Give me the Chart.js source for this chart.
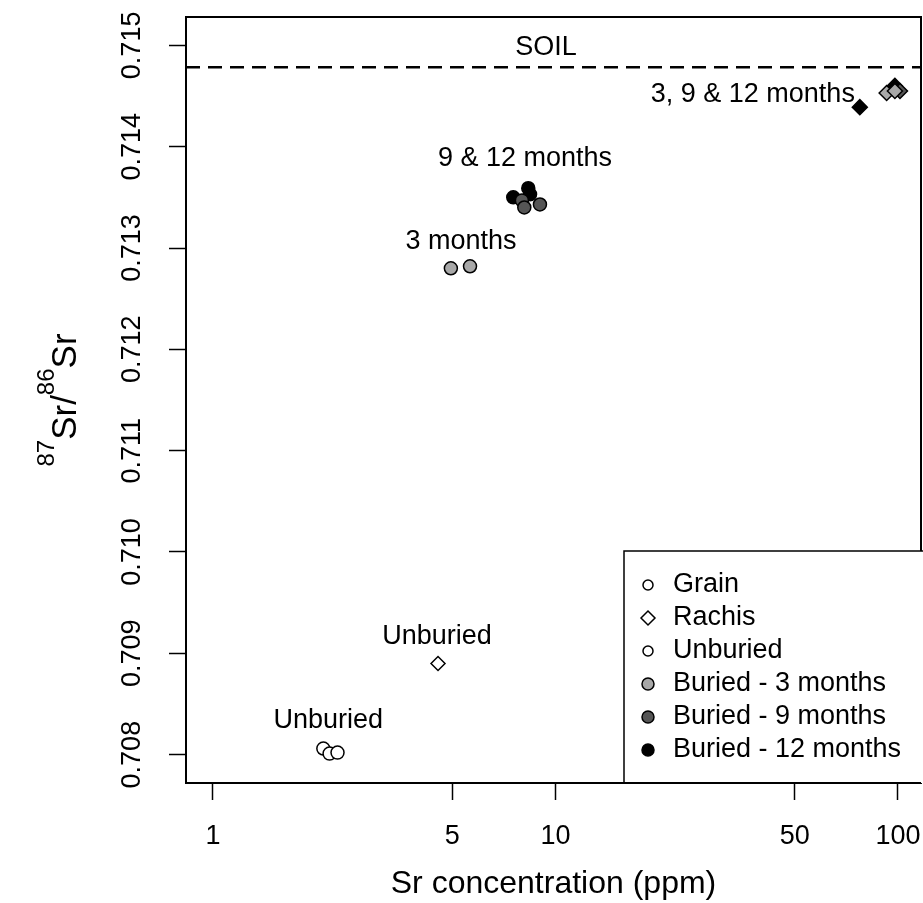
<!DOCTYPE html>
<html><head><meta charset="utf-8">
<script src="https://cdn.jsdelivr.net/npm/chart.js@4/dist/chart.umd.min.js"></script>
<style>html,body{margin:0;padding:0;background:#fff}canvas{display:block}</style>
</head><body>
<canvas id="c" width="923" height="903"></canvas>
<script>
// ---- data ----
const xTicks = [1, 5, 10, 50, 100];
const yTicks = [0.708, 0.709, 0.710, 0.711, 0.712, 0.713, 0.714, 0.715];

const grainUnburiedX = [2.10, 2.19, 2.31];
const grainUnburiedY = [0.70806, 0.70801, 0.70802];
const rachisUnburiedX = [4.54];
const rachisUnburiedY = [0.70890];

const grain3X = [4.95, 5.63];
const grain3Y = [0.71280, 0.71282];
const grain9X = [7.98, 8.11, 9.01];
const grain9Y = [0.71347, 0.71340, 0.71343];
const grain12X = [7.53, 8.33, 8.43];
const grain12Y = [0.71350, 0.71359, 0.71353];

const rachis3X = [92.7, 98.0];
const rachis3Y = [0.71453, 0.71455];
const rachis9X = [101.4];
const rachis9Y = [0.71455];
const rachis12X = [77.4, 98.0];
const rachis12Y = [0.71439, 0.71460];

const soilValue = 0.714785;

const noteText = ['SOIL', '3, 9 & 12 months', '9 & 12 months', '3 months', 'Unburied', 'Unburied'];
const noteX = [9.38, 37.7, 8.15, 5.30, 4.51, 2.17];
const noteY = [0.714979, 0.714515, 0.713883, 0.713064, 0.709165, 0.708336];

const legendLabels = ['Grain', 'Rachis', 'Unburied', 'Buried - 3 months', 'Buried - 9 months', 'Buried - 12 months'];
const legendShapes = ['circle', 'rectRot', 'circle', 'circle', 'circle', 'circle'];
const legendFills = ['#ffffff', '#ffffff', '#ffffff', '#a8a8a8', '#555555', '#000000'];

const xTitle = 'Sr concentration (ppm)';

// ---- chart ----
const FONT = '"Liberation Sans", Arial, Helvetica, sans-serif';
function pts(xs, ys) { return xs.map((v, i) => ({ x: v, y: ys[i] })); }
function ds(label, xs, ys, shape, fill, r, order) {
  return {
    label, data: pts(xs, ys), pointStyle: shape, backgroundColor: fill,
    borderColor: '#000', borderWidth: 1.5, pointRadius: r, pointHoverRadius: r,
    showLine: false, order
  };
}

function drawSymbol(ctx, shape, x, y, r, fill) {
  ctx.beginPath();
  if (shape === 'rectRot') {
    ctx.moveTo(x - r, y); ctx.lineTo(x, y - r); ctx.lineTo(x + r, y); ctx.lineTo(x, y + r); ctx.closePath();
  } else {
    ctx.arc(x, y, r, 0, Math.PI * 2);
  }
  ctx.fillStyle = fill; ctx.fill();
  ctx.lineWidth = 1.5; ctx.strokeStyle = '#000'; ctx.stroke();
}

const overlay = {
  id: 'overlay',
  beforeDatasetsDraw(chart) {
    const { ctx, chartArea: a, scales: { x, y } } = chart;
    ctx.save();
    const sy = y.getPixelForValue(soilValue);
    ctx.strokeStyle = '#000'; ctx.lineWidth = 2.5; ctx.setLineDash([14, 8]);
    ctx.beginPath(); ctx.moveTo(a.left, sy); ctx.lineTo(a.right, sy); ctx.stroke();
    ctx.setLineDash([]);
    ctx.font = '27px ' + FONT; ctx.fillStyle = '#000';
    ctx.textAlign = 'center'; ctx.textBaseline = 'middle';
    noteText.forEach((t, i) => ctx.fillText(t, x.getPixelForValue(noteX[i]), y.getPixelForValue(noteY[i])));
    ctx.restore();
  },
  afterDraw(chart) {
    const { ctx, chartArea: a, scales: { x, y } } = chart;
    ctx.save();
    ctx.strokeStyle = '#000'; ctx.lineWidth = 2;
    ctx.strokeRect(a.left, a.top, a.right - a.left, a.bottom - a.top);
    // y tick labels (parallel to axis)
    ctx.font = '27px ' + FONT; ctx.fillStyle = '#000';
    ctx.textAlign = 'center'; ctx.textBaseline = 'middle';
    yTicks.forEach(v => {
      const py = y.getPixelForValue(v);
      ctx.save(); ctx.translate(a.left - 53, py); ctx.rotate(-Math.PI / 2);
      ctx.fillText(v.toFixed(3), 0, 0); ctx.restore();
    });
    // x title
    ctx.font = '32px ' + FONT;
    ctx.fillText(xTitle, (a.left + a.right) / 2, 884);
    // y title with superscripts
    const mainF = '35px ' + FONT, supF = '24px ' + FONT;
    const parts = [['87', true], ['Sr/', false], ['86', true], ['Sr', false]];
    let total = 0;
    const widths = parts.map(([t, sup]) => { ctx.font = sup ? supF : mainF; const w = ctx.measureText(t).width; total += w; return w; });
    ctx.save();
    ctx.translate(46, (a.top + a.bottom) / 2); ctx.rotate(-Math.PI / 2);
    ctx.textAlign = 'left'; ctx.textBaseline = 'alphabetic';
    let cx = -total / 2;
    parts.forEach(([t, sup], i) => {
      ctx.font = sup ? supF : mainF;
      ctx.fillText(t, cx, sup ? 8 : 30);
      cx += widths[i];
    });
    ctx.restore();
    // legend
    const lx = a.right - 297, ly = a.bottom - 232;
    ctx.fillStyle = '#fff';
    ctx.fillRect(lx, ly, 400, a.bottom - ly);
    ctx.strokeStyle = '#000'; ctx.lineWidth = 1.5;
    ctx.beginPath(); ctx.moveTo(lx + 400, ly); ctx.lineTo(lx, ly); ctx.lineTo(lx, a.bottom); ctx.stroke();
    ctx.lineWidth = 2; ctx.beginPath(); ctx.moveTo(lx, a.bottom); ctx.lineTo(a.right, a.bottom); ctx.stroke();
    ctx.font = '27px ' + FONT; ctx.textAlign = 'left'; ctx.textBaseline = 'middle';
    legendLabels.forEach((t, i) => {
      const yy = ly + 34 + i * 33;
      drawSymbol(ctx, legendShapes[i], lx + 24, yy, legendShapes[i] === 'rectRot' ? 7 : (i >= 3 ? 6 : 5), legendFills[i]);
      ctx.fillStyle = '#000';
      ctx.fillText(t, lx + 49, yy);
    });
    ctx.restore();
  }
};

new Chart(document.getElementById('c'), {
  type: 'scatter',
  data: {
    datasets: [
      ds('Grain - Unburied', grainUnburiedX, grainUnburiedY, 'circle', '#ffffff', 6.5, 0),
      ds('Rachis - Unburied', rachisUnburiedX, rachisUnburiedY, 'rectRot', '#ffffff', 7, 1),
      ds('Grain - 3 months', grain3X, grain3Y, 'circle', '#a8a8a8', 6.5, 2),
      ds('Grain - 9 months', grain9X, grain9Y, 'circle', '#555555', 6.5, 3),
      ds('Grain - 12 months', grain12X, grain12Y, 'circle', '#000000', 6.5, 4),
      ds('Rachis - 3 months', rachis3X, rachis3Y, 'rectRot', '#a8a8a8', 7.5, 5),
      ds('Rachis - 9 months', rachis9X, rachis9Y, 'rectRot', '#555555', 7.5, 6),
      ds('Rachis - 12 months', rachis12X, rachis12Y, 'rectRot', '#000000', 7.5, 7)
    ]
  },
  options: {
    responsive: false, animation: false, devicePixelRatio: 1,
    layout: { autoPadding: false, padding: { top: 17, right: 2, left: 0, bottom: 0 } },
    plugins: { legend: { display: false }, tooltip: { enabled: false } },
    scales: {
      x: {
        type: 'logarithmic', min: 0.834, max: 116.8,
        afterBuildTicks: s => { s.ticks = xTicks.map(v => ({ value: v })); },
        afterFit: s => { s.height = 120; s.paddingLeft = 0; s.paddingRight = 0; },
        ticks: { callback: v => String(v), color: '#000', font: { size: 27, family: FONT }, padding: 20, maxRotation: 0, autoSkip: false },
        grid: { drawOnChartArea: false, drawTicks: true, tickLength: 17, tickColor: '#000', tickWidth: 1.5 },
        border: { display: true, color: '#000', width: 2 }
      },
      y: {
        type: 'linear', min: 0.70772, max: 0.71528,
        afterBuildTicks: s => { s.ticks = yTicks.map(v => ({ value: v })); },
        afterFit: s => { s.width = 186; s.paddingTop = 0; s.paddingBottom = 0; },
        ticks: { display: false },
        grid: { drawOnChartArea: false, drawTicks: true, tickLength: 17, tickColor: '#000', tickWidth: 1.5 },
        border: { display: true, color: '#000', width: 2 }
      }
    }
  },
  plugins: [overlay]
});
</script>
</body></html>
